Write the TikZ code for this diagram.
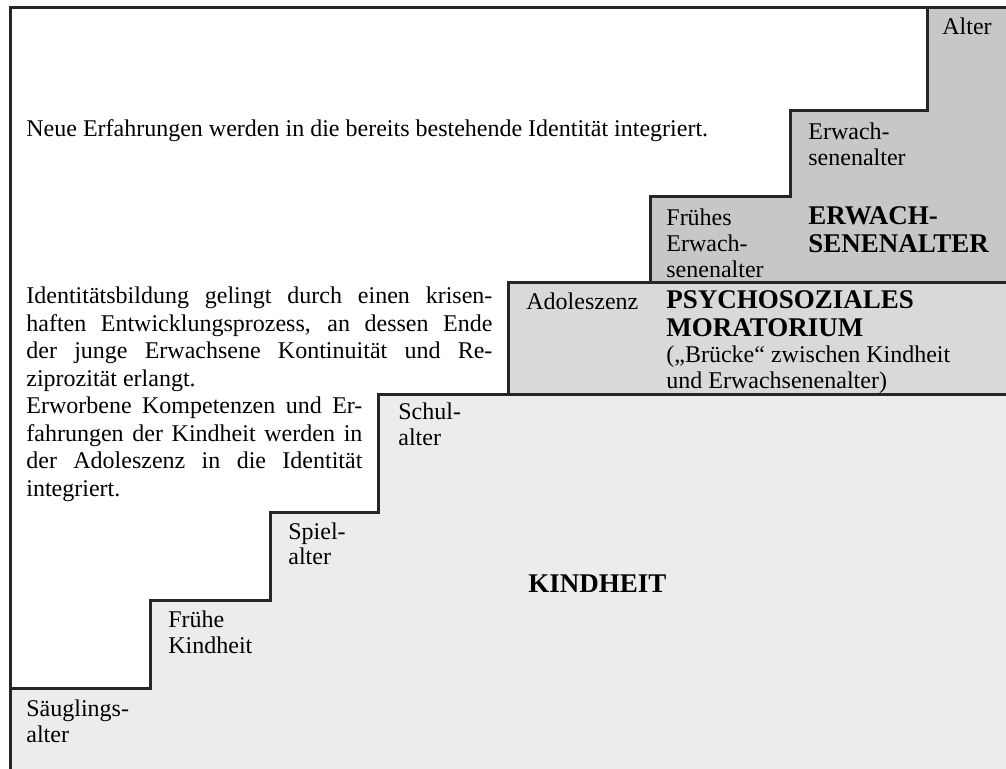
\documentclass[tikz,border=0pt]{standalone}
\usepackage{fontspec}
\setmainfont{Liberation Serif}
\definecolor{erwgrau}{HTML}{C6C7C6}
\definecolor{adograu}{HTML}{D9D9D9}
\definecolor{kindgrau}{HTML}{EBECEB}
\begin{document}
\begin{tikzpicture}[x=0.5pt,y=-0.5pt,
  lbl/.style={anchor=base west,inner sep=0pt,align=left,font=\fontsize{12}{13}\selectfont},
  titel/.style={anchor=base west,inner sep=0pt,align=left,font=\fontsize{13.5}{14}\selectfont\bfseries},
  txt/.style={anchor=base west,inner sep=0pt,align=justify,font=\fontsize{12}{13.75}\selectfont},
  stufe/.style={line width=1.5pt,draw=black!85}]
\useasboundingbox (0,0) rectangle (1006,769);

% Flaechen
\fill[kindgrau] (10,688) -| (150,600) -| (270,513) -| (378,395) -- (1006,395) -- (1006,769) -- (10,769) -- cycle;
\fill[adograu] (508,283) rectangle (1006,395);
\fill[erwgrau] (650,283) |- (790,197) |- (927,111) |- (1006,8) -- (1006,283) -- cycle;

% Treppe
\draw[stufe] (10,769) -- (10,8) -- (1006,8);
\draw[stufe] (10,688) -| (150,600) -| (270,513) -| (378,395) -- (1006,395);
\draw[stufe] (508,395) -- (508,283) -- (1006,283);
\draw[stufe] (650,283) |- (790,197) |- (927,111) -- (927,8);

% mehrzeilige Labels: Koordinate = Grundlinie der letzten Zeile
\node[lbl] (alter) at (942,35) {Alter};
\node[lbl] (erwachsenenalter) at (808,166) {Erwach-\\senenalter};
\node[lbl] (fruehes) at (666,278) {Frühes\\Erwach-\\senenalter};
\node[titel] (erwtitel) at (808,253) {ERWACH-\\SENENALTER};
\node[lbl] (adoleszenz) at (526,310) {Adoleszenz};
\node[titel] (moratorium) at (666,337) {PSYCHOSOZIALES\\MORATORIUM};
\node[lbl] (bruecke) at (666,389) {(„Brücke“ zwischen Kindheit\\und Erwachsenenalter)};
\node[lbl] (schulalter) at (398,446) {Schul-\\alter};
\node[lbl] (spielalter) at (288,565) {Spiel-\\alter};
\node[lbl] (fruehekindheit) at (168,653) {Frühe\\Kindheit};
\node[lbl] (saeugling) at (26,742) {Säuglings-\\alter};
\node[titel] (kindheit) at (528,592) {KINDHEIT};

\node[lbl] (neue) at (26,137) {Neue Erfahrungen werden in die bereits bestehende Identität integriert.};
\node[txt,text width=233pt] (identitaet) at (26,304) {Identitätsbildung gelingt durch einen krisen-\linebreak
  haften Entwicklungsprozess, an dessen Ende\linebreak
  der junge Erwachsene Kontinuität und Re-\linebreak
  ziprozität erlangt.};
\node[txt,text width=168pt] (erworben) at (26,414) {Erworbene Kompetenzen und Er-\linebreak
  fahrungen der Kindheit werden in\linebreak
  der Adoleszenz in die Identität\linebreak
  integriert.};
\end{tikzpicture}
\end{document}
